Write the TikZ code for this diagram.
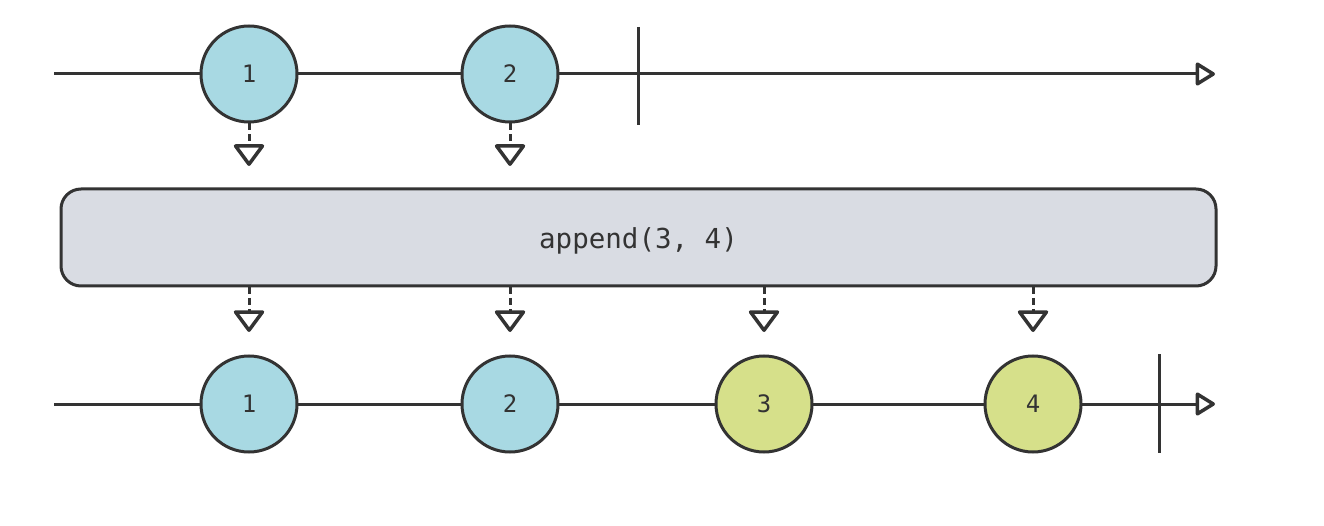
\documentclass[tikz,border=0pt]{standalone}
\usepackage{fontspec}
\setmonofont{DejaVu Sans Mono}
\usetikzlibrary{arrows.meta}
\definecolor{ink}{HTML}{333333}
\definecolor{blu}{HTML}{A8D9E3}
\definecolor{grn}{HTML}{D6E08A}
\definecolor{opfill}{HTML}{D9DCE3}
\begin{document}
\begin{tikzpicture}[x=1pt,y=-1pt,
  marble/.style={circle, draw=ink, line width=3pt, minimum size=96pt, inner sep=0pt,
    font=\fontsize{24}{28}\selectfont\ttfamily, text=ink},
  timeline/.style={draw=ink, line width=3pt,
    -{Triangle[open, length=21pt, width=25pt, line width=3.5pt, line join=round]}},
  endbar/.style={draw=ink, line width=3pt},
  emit/.style={draw=ink, line width=3pt, dash pattern=on 7pt off 4pt,
    -{Triangle[open, length=23pt, width=33pt, line width=3.5pt, line join=round]}},
  opbox/.style={draw=ink, fill=opfill, line width=3pt, rounded corners=20pt,
    minimum width=1155pt, minimum height=97pt, inner sep=0pt,
    text height=22pt, text depth=0pt,
    font=\fontsize{27.5}{30}\selectfont\ttfamily, text=ink}
]
\useasboundingbox (0,0) rectangle (1324,526);
% top timeline
\coordinate (t0) at (54,74);
\coordinate (t1) at (1215,74);
\draw[timeline] (t0) -- (t1);
\coordinate (tc1) at (638,27);
\coordinate (tc2) at (638,125);
\draw[endbar] (tc1) -- (tc2);
\node[marble, fill=blu] (a1) at (249,74) {1};
\node[marble, fill=blu] (a2) at (510,74) {2};
% operator box
\node[opbox] (op) at (638.5,237.5) {append(3, 4)};
% emissions into box
\coordinate (a1e) at (249,166);
\coordinate (a2e) at (510,166);
\draw[emit] (a1) -- (a1e);
\draw[emit] (a2) -- (a2e);
% bottom timeline
\coordinate (u0) at (54,404);
\coordinate (u1) at (1215,404);
\draw[timeline] (u0) -- (u1);
\coordinate (uc1) at (1159,354);
\coordinate (uc2) at (1159,453);
\draw[endbar] (uc1) -- (uc2);
\node[marble, fill=blu] (b1) at (249,404) {1};
\node[marble, fill=blu] (b2) at (510,404) {2};
\node[marble, fill=grn] (b3) at (764,404) {3};
\node[marble, fill=grn] (b4) at (1033,404) {4};
% emissions out of box
\foreach \n/\x in {1/249,2/510,3/764,4/1033}{
  \coordinate (s\n) at (\x,287);
  \coordinate (e\n) at (\x,332);
  \draw[emit] (s\n) -- (e\n);
}
\end{tikzpicture}
\end{document}
